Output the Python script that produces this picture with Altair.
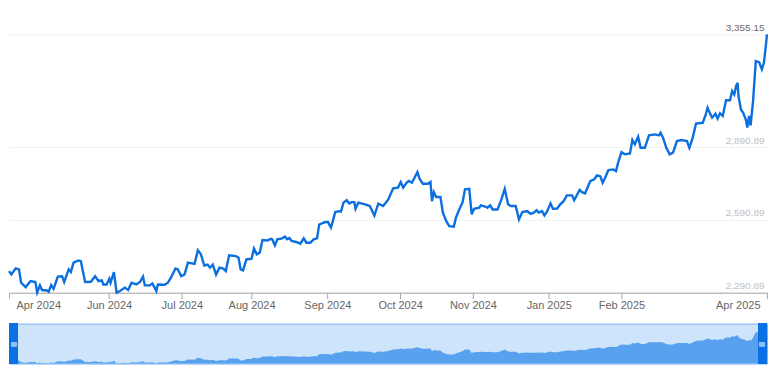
import altair as alt
import pandas as pd

# trading-day index (0 = first session) and closing price
day = [0.0, 0.8, 2.2, 3.3, 4.0, 5.5, 7.1, 8.7, 9.3, 10.2, 10.9, 12.5, 13.1, 13.9, 14.7,
       16.1, 17.5, 18.2, 19.7, 20.4, 21.3, 22.9, 23.7, 25.1, 27.0, 28.4, 29.5, 30.6, 31.1,
       32.2, 33.1, 33.5, 34.6, 35.5, 36.6, 38.2, 39.3, 40.4, 42.0, 43.2, 44.2, 44.8, 46.4,
       47.3, 48.6, 49.1, 51.3, 52.4, 53.5, 54.9, 55.7, 56.8, 57.9, 59.0, 61.2, 62.3, 63.3,
       64.4, 65.5, 66.3, 67.2, 68.3, 69.4, 70.7, 71.5, 72.6, 74.8, 75.7, 76.4, 77.2, 78.3,
       80.0, 80.8, 81.7, 82.7, 83.6, 85.2, 86.3, 86.8, 87.7, 88.5, 90.1, 91.0, 91.7, 92.5,
       93.2, 95.0, 96.1, 97.2, 98.1, 99.4, 100.5, 101.6, 102.3, 104.3, 105.2, 106.2, 107.6,
       108.9, 109.5, 110.3, 111.4, 112.2, 113.0, 113.9, 114.3, 115.2, 117.4, 119.0, 120.5,
       121.8, 123.4, 125.1, 126.7, 128.3, 129.2, 130.0, 131.1, 131.8, 132.9, 134.0, 134.7,
       135.4, 136.5, 138.2, 139.0, 139.5, 140.1, 140.9, 142.3, 143.1, 144.2, 145.2, 146.7,
       147.4, 148.5, 149.6, 150.4, 151.8, 152.6, 153.4, 155.1, 155.6, 157.3, 157.8, 158.7,
       159.5, 161.1, 162.2, 163.5, 164.6, 165.5, 167.1, 168.2, 169.3, 170.9, 172.0, 173.1,
       174.0, 174.7, 175.8, 176.6, 177.5, 178.6, 179.4, 180.8, 181.8, 182.9, 184.0, 185.7,
       186.4, 188.2, 189.0, 190.0, 191.7, 193.0, 193.9, 195.0, 195.8, 196.6, 197.7, 199.3,
       200.2, 200.9, 202.0, 203.1, 204.8, 205.6, 206.4, 207.5, 208.3, 209.7, 211.1, 213.0,
       214.4, 214.9, 215.7, 216.8, 217.9, 219.0, 220.3, 221.7, 223.6, 224.4, 225.5, 226.6,
       228.8, 229.7, 230.4, 231.0, 231.9, 233.0, 233.7, 234.5, 235.4, 236.5, 237.8, 238.5,
       239.2, 239.8, 240.3, 240.6, 241.4, 242.1, 243.0, 243.5, 244.1, 244.6, 245.4, 246.3,
       247.4, 248.3, 249.0, 249.6, 250.0]

price = [2380, 2366, 2391, 2387, 2332, 2314, 2339, 2335, 2292, 2321, 2302, 2300, 2295, 2322, 2307,
         2357, 2359, 2335, 2387, 2376, 2415, 2424, 2421, 2335, 2336, 2359, 2339, 2342, 2325,
         2325, 2349, 2332, 2376, 2290.89, 2298, 2312, 2302, 2332, 2325, 2335, 2357, 2321, 2321,
         2329, 2298, 2325, 2324, 2332, 2355, 2391, 2387, 2359, 2366, 2415, 2410, 2466, 2449,
         2403, 2407, 2394, 2407, 2366, 2394, 2390, 2380, 2445, 2442, 2435, 2387, 2383, 2428,
         2431, 2473, 2449, 2456, 2508, 2506, 2513, 2511, 2486, 2511, 2515, 2522, 2511, 2516,
         2504, 2499, 2493, 2515, 2497, 2497, 2511, 2515, 2572, 2582, 2582, 2559, 2623,
         2627, 2625, 2662, 2672, 2659, 2664, 2664, 2637, 2662, 2655, 2648, 2609,
         2658, 2648, 2675, 2721, 2724, 2747, 2724, 2744, 2751, 2744, 2771, 2788,
         2761, 2740, 2740, 2747, 2668, 2705, 2685, 2685, 2621, 2586, 2565, 2563,
         2600, 2634, 2664, 2717, 2719, 2614, 2637, 2641, 2651, 2645, 2641, 2651,
         2634, 2634, 2668, 2719, 2655, 2648, 2648, 2593, 2623, 2627, 2616, 2621,
         2631, 2621, 2627, 2609, 2627, 2659, 2637, 2638, 2655, 2668, 2692, 2692,
         2672, 2714, 2705, 2700, 2751, 2758, 2774, 2771, 2744, 2765, 2796, 2799,
         2792, 2827, 2870, 2861, 2865, 2920, 2902, 2934, 2888, 2888, 2939, 2943,
         2939, 2950, 2930, 2888, 2861, 2868, 2916, 2920, 2916, 2888, 2930, 2988,
         2991, 3021, 3053, 3035, 3012, 3028, 3008, 3030, 3019, 3084, 3084, 3122,
         3108, 3142, 3156, 3101, 3046, 3033, 3005, 2971, 3019, 2980, 3080, 3245,
         3241, 3211, 3239, 3307, 3355.15]

tick_days = [0, 33, 57, 80, 105, 129, 153, 178, 202, 250]
tick_labels = ["Apr 2024", "Jun 2024", "Jul 2024", "Aug 2024", "Sep 2024",
               "Oct 2024", "Nov 2024", "Jan 2025", "Feb 2025", "Apr 2025"]
y_ticks = [2290.89, 2590.89, 2890.89, 3355.15]

df = pd.DataFrame({"day": day, "price": price})

label_expr = ("[" + ",".join("'%s'" % t for t in tick_labels) + "][indexof(["
              + ",".join(str(d) for d in tick_days) + "], datum.value)]")

W = 760
x_scale = alt.Scale(domain=[0, 250], nice=False, zero=False)

main = alt.Chart(df).mark_line(color="#0b6fe0", strokeWidth=2.4, interpolate="linear").encode(
    x=alt.X("day:Q", scale=x_scale,
            axis=alt.Axis(values=tick_days, labelExpr=label_expr, grid=False, title=None,
                          domainColor="#a6a6a6", tickColor="#a6a6a6", tickSize=6,
                          labelFlush=True, labelFlushOffset=-7, labelColor="#666666",
                          labelFontSize=11, labelPadding=1)),
    y=alt.Y("price:Q", scale=alt.Scale(domain=[2290.89, 3355.15], nice=False, zero=False),
            axis=alt.Axis(orient="right", values=y_ticks, format=",.2f", title=None,
                          labelAlign="right", labelBaseline="alphabetic", labelOffset=-4,
                          labelPadding=-3, ticks=False, tickSize=0, domain=False,
                          grid=True, gridColor="#f1f1f1", labelFontSize=10,
                          labelColor={"expr": "datum.value == 3355.15 ? '#6b6b6b' : '#c2c2c2'"})),
).properties(width=W, height=259, view=alt.ViewBackground(strokeWidth=0))

NH = 40
nav_area = alt.Chart(df).mark_area(color="#57a1ef", opacity=1, clip=True).encode(
    x=alt.X("day:Q", scale=x_scale, axis=None),
    y=alt.Y("price:Q", scale=alt.Scale(domain=[2290.89, 3507], nice=False, zero=False), axis=None),
)
handle_color = "#0a70e6"
grip_color = "#8ec2f6"
left_handle = alt.Chart(df).mark_rect(color=handle_color, x2Offset=8.5).encode(
    x=alt.datum(0), x2=alt.datum(0), y=alt.value(0), y2=alt.value(NH))
right_handle = alt.Chart(df).mark_rect(color=handle_color, xOffset=-8.5).encode(
    x=alt.datum(250), x2=alt.datum(250), y=alt.value(0), y2=alt.value(NH))
left_grip = alt.Chart(df).mark_rect(color=grip_color, xOffset=2, x2Offset=7.5).encode(
    x=alt.datum(0), x2=alt.datum(0), y=alt.value(18.5), y2=alt.value(22.5))
right_grip = alt.Chart(df).mark_rect(color=grip_color, xOffset=-7.5, x2Offset=-2).encode(
    x=alt.datum(250), x2=alt.datum(250), y=alt.value(18.5), y2=alt.value(22.5))

nav = alt.layer(nav_area, left_handle, right_handle, left_grip, right_grip).properties(
    width=W, height=NH,
    view=alt.ViewBackground(fill="#cde4fb", stroke="#78b3f2", strokeWidth=1))

chart = alt.vconcat(main, nav, spacing=12).properties(
    padding={"top": 14, "left": -4, "right": -4, "bottom": 0},
    background="white",
).configure(font="Liberation Sans")

chart.save("out.html", embed_options={"renderer": "svg", "actions": False})
